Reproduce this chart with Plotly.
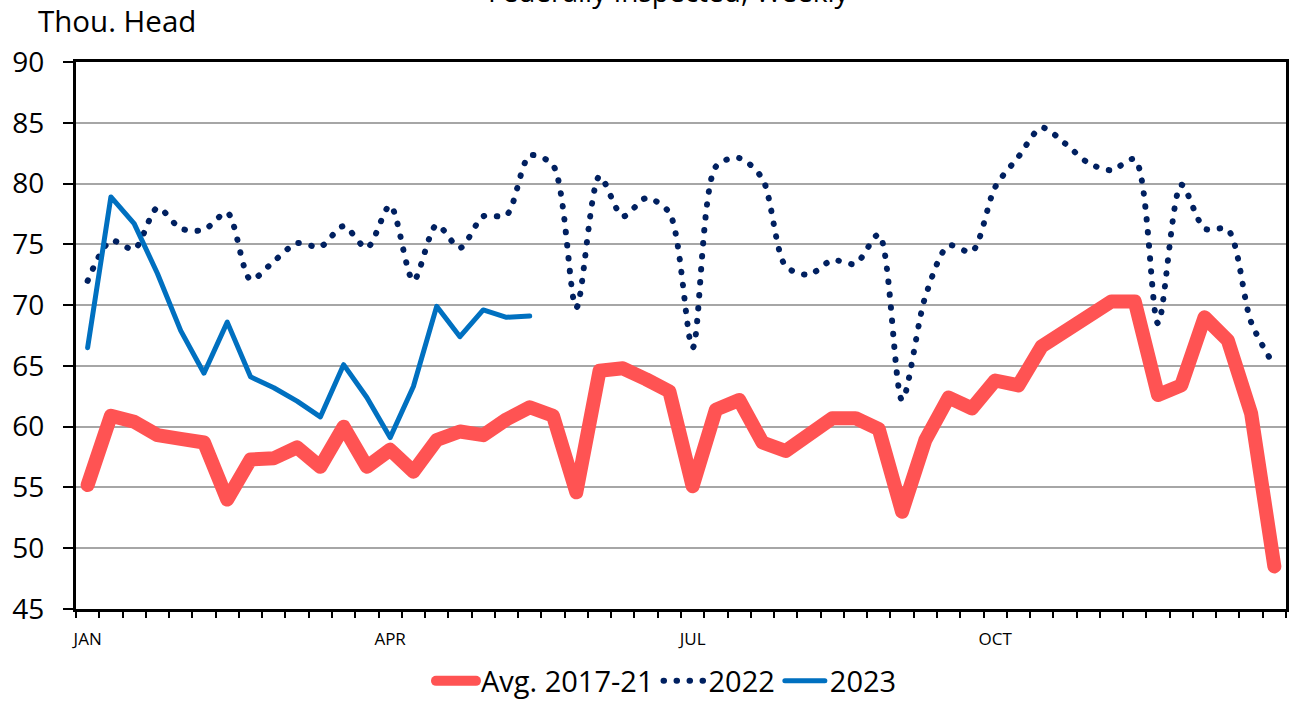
import plotly.graph_objects as go

weeks = list(range(1, 53))

avg_2017_21 = [55.2, 60.9, 60.4, 59.3, 59.0, 58.7, 54.0, 57.3, 57.4, 58.3,
               56.7, 60.0, 56.7, 58.1, 56.3, 58.9, 59.6, 59.3, 60.6, 61.6,
               60.9, 54.6, 64.6, 64.8, 63.9, 62.9, 55.1, 61.4, 62.2, 58.7,
               58.0, 59.2, 60.7, 60.7, 59.8, 53.0, 58.9, 62.4, 61.5, 63.8,
               63.4, 66.6, 67.8, 69.3, 70.3, 70.3, 62.6, 63.4, 69.0, 67.1,
               61.1, 48.5]

y2022 = [72.0, 75.3, 74.6, 78.0, 76.3, 76.2, 77.6, 72.1, 73.6, 75.1,
         74.8, 76.5, 74.7, 78.2, 72.0, 76.6, 74.7, 77.3, 77.4, 82.3,
         81.5, 69.8, 80.6, 77.3, 78.8, 77.6, 66.5, 81.4, 82.1, 80.4,
         73.2, 72.5, 73.7, 73.4, 75.8, 62.2, 70.7, 74.9, 74.4, 79.7,
         82.2, 84.6, 83.3, 81.7, 81.1, 82.0, 68.5, 79.9, 76.3, 76.2,
         68.6, 65.0]

y2023 = [66.5, 78.9, 76.7, 72.6, 67.9, 64.4, 68.6, 64.1, 63.2, 62.1,
         60.8, 65.1, 62.4, 59.1, 63.3, 69.9, 67.4, 69.6, 69.0, 69.1]

month_pos = [1, 14, 27, 40]
month_labels = ["JAN", "APR", "JUL", "OCT"]

FONT = "Open Sans"

fig = go.Figure()
fig.add_trace(go.Scatter(x=weeks, y=avg_2017_21, mode="lines", name="Avg. 2017-21",
                         line=dict(color="#FF5353", width=14)))
fig.add_trace(go.Scatter(x=weeks, y=y2022, mode="lines", name="2022",
                         line=dict(color="#002060", width=6, dash="0.5px,12.5px",
                                   shape="spline", smoothing=0.8)))
fig.add_trace(go.Scatter(x=weeks[:len(y2023)], y=y2023, mode="lines", name="2023",
                         line=dict(color="#0070C0", width=5)))

fig.update_layout(
    width=1289, height=704,
    margin=dict(l=76, r=3, t=62, b=95, autoexpand=False),
    paper_bgcolor="white", plot_bgcolor="white",
    font=dict(family=FONT, color="black"),
    showlegend=True,
    legend=dict(orientation="h", x=0.488, xanchor="center", y=(609 - 681) / 547,
                yanchor="middle",
                font=dict(size=29, family=FONT), itemwidth=40, tracegroupgap=0),
)

fig.update_xaxes(range=[0.5, 52.5], tickvals=month_pos, ticktext=month_labels,
                 ticks="", tickfont=dict(size=17, family=FONT),
                 showgrid=False, zeroline=False, automargin=False,
                 showline=True, linecolor="black", linewidth=3, mirror=True,
                 ticklabelstandoff=13,
                 minor=dict(ticks="outside", tick0=0.5, dtick=1, ticklen=6,
                            tickcolor="black", tickwidth=1.5, showgrid=False))

fig.update_yaxes(range=[45, 90], dtick=5, tick0=45, ticks="outside", ticklen=10,
                 tickcolor="black", tickwidth=1.5, automargin=False,
                 tickfont=dict(size=28, family=FONT),
                 showgrid=True, gridcolor="#A6A6A6", gridwidth=1.5, zeroline=False,
                 showline=True, linecolor="black", linewidth=3, mirror=True,
                 ticklabelstandoff=13)

fig.add_annotation(text="Thou. Head", xref="paper", yref="paper",
                   x=(36 - 76) / 1210, xanchor="left", y=(609 - 20) / 547, yanchor="middle",
                   showarrow=False, font=dict(size=29.5, family=FONT))

fig.add_annotation(text="Federally Inspected, Weekly", xref="paper", yref="paper",
                   x=(669 - 76) / 1210, xanchor="center", y=(609 - 12) / 547, yanchor="bottom",
                   showarrow=False, font=dict(size=28, family=FONT))

post = """
document.body.style.margin='0';
document.body.style.overflow='hidden';
function roundLines(){
  document.querySelectorAll('path.js-line').forEach(function(p){
    p.style.strokeLinejoin='round';
    p.style.strokeLinecap='round';
  });
}
roundLines();
var gd = document.getElementById('{plot_id}');
if (gd && gd.on) { gd.on('plotly_afterplot', roundLines); }
setTimeout(roundLines, 50);
setTimeout(roundLines, 300);
"""

fig.write_html("out.html", post_script=post, config={"displayModeBar": False})
